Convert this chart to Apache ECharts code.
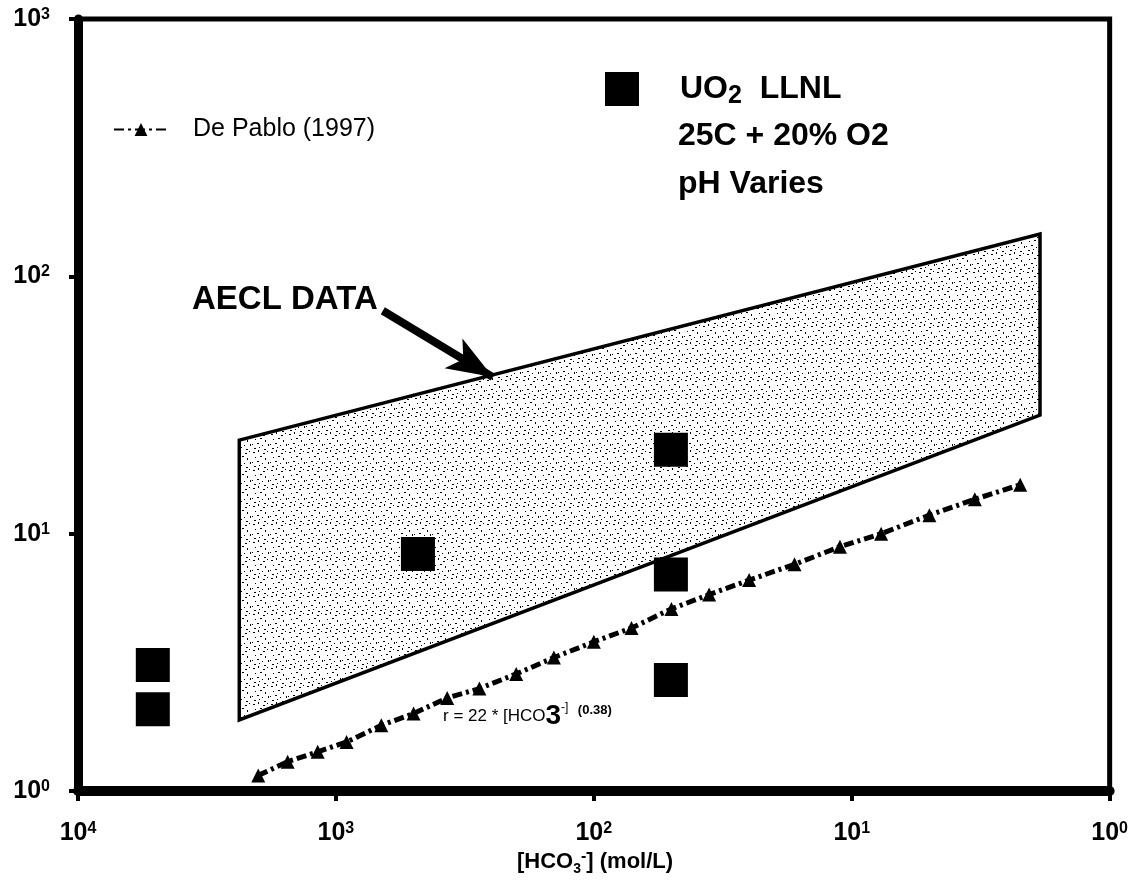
<!DOCTYPE html>
<html lang="en">
<head>
<meta charset="UTF-8">
<title>UO2 rate vs HCO3</title>
<script src="https://cdn.jsdelivr.net/npm/echarts@6/dist/echarts.min.js"></script>
<style>
    html, body { margin: 0; padding: 0; background: #fff; }
    #main { width: 1131px; height: 886px; }
</style>
</head>
<body>
<div id="main"></div>
<script type="text/javascript">
    // UO2 LLNL points (black squares)
    var llnlX = [1.95e-4, 1.95e-4, 2.08e-3, 1.99e-2, 1.99e-2, 1.99e-2];
    var llnlY = [3.09, 2.08, 8.34, 21.2, 6.94, 2.70];

    // De Pablo (1997)
    var pabloX = [5.0e-4, 6.5e-4, 8.5e-4, 1.1e-3, 1.5e-3, 2.0e-3, 2.7e-3, 3.6e-3, 5.0e-3, 7.0e-3,
                  1.0e-2, 1.4e-2, 2.0e-2, 2.8e-2, 4.0e-2, 6.0e-2, 9.0e-2, 0.13, 0.2, 0.3, 0.45];
    var pabloY = [1.15, 1.3, 1.42, 1.55, 1.8, 2.0, 2.3, 2.5, 2.85, 3.3,
                  3.8, 4.3, 5.1, 5.8, 6.6, 7.6, 8.9, 10.0, 11.8, 13.6, 15.5];

    // AECL DATA band corners
    var bandX = [4.22e-4, 0.537, 0.537, 4.22e-4];
    var bandY = [23.1, 146, 28.9, 1.89];

    // arrow to the band
    var arrowX = [1.52e-3, 4.06e-3];
    var arrowY = [73.5, 40.6];

    // exponents as printed under / beside the axes
    var xTickLabels = ['4', '3', '2', '1', '0'];
    var yTickLabels = ['0', '1', '2', '3'];

    var FONT = 'Liberation Sans';

    // speckled fill like the scanned stipple
    var tex = document.createElement('canvas');
    tex.width = 18; tex.height = 18;
    var g = tex.getContext('2d');
    g.fillStyle = '#fff'; g.fillRect(0, 0, 18, 18);
    g.fillStyle = '#000';
    [[1,2,2,1],[6,0,1,2],[11,3,2,1],[15,1,1,1],[3,7,1,1],[8,6,2,1],[13,8,1,2],
     [0,12,1,1],[5,11,2,1],[10,13,1,1],[16,12,1,2],[2,16,2,1],[7,15,1,1],[12,17,2,1]]
        .forEach(function (s) { g.fillRect(s[0], s[1], s[2], s[3]); });

    var labelRich = {
        base: { fontSize: 25, fontWeight: 'bold', fontFamily: FONT, color: '#000' },
        sup: { fontSize: 16, fontWeight: 'bold', fontFamily: FONT, color: '#000', verticalAlign: 'top', padding: [0, 0, 7, 0] }
    };

    var myChart = echarts.init(document.getElementById('main'));
    var option = {
        animation: false,
        backgroundColor: '#fff',
        grid: {
            left: 78, top: 19, width: 1037, height: 772,
            show: true, borderColor: '#000', borderWidth: 5
        },
        legend: [
            {
                data: ['De Pablo (1997)'],
                left: 108, top: 112,
                itemWidth: 54, itemHeight: 16,
                textStyle: { fontSize: 25, fontFamily: FONT, color: '#000', padding: [0, 0, 0, 20] }
            },
            {
                data: ['UO2 LLNL'],
                left: 600, top: 67,
                icon: 'rect',
                itemWidth: 34, itemHeight: 34,
                itemStyle: { color: '#000', opacity: 1 },
                formatter: function () { return 'UO{sub|2}  LLNL'; },
                textStyle: {
                    fontSize: 32, fontWeight: 'bold', fontFamily: FONT, color: '#000', padding: [0, 0, 0, 36],
                    rich: { sub: { fontSize: 25, fontWeight: 'bold', fontFamily: FONT, padding: [14, 0, 0, 0] } }
                }
            }
        ],
        xAxis: {
            type: 'log', logBase: 10, min: 1e-4, max: 1,
            axisLine: { lineStyle: { color: '#000', width: 10 } },
            axisTick: { show: true, length: 10, lineStyle: { color: '#000', width: 4 } },
            minorTick: { show: false },
            splitLine: { show: false },
            axisLabel: {
                margin: 30,
                formatter: function (v) {
                    var i = Math.round(Math.log10(v)) + 4;
                    return '{base|10}{sup|' + xTickLabels[i] + '}';
                },
                rich: labelRich
            }
        },
        yAxis: {
            type: 'log', logBase: 10, min: 1, max: 1000,
            axisLine: { lineStyle: { color: '#000', width: 9 } },
            axisTick: { show: true, length: 9, lineStyle: { color: '#000', width: 4 } },
            minorTick: { show: false },
            splitLine: { show: false },
            axisLabel: {
                margin: 28,
                formatter: function (v) {
                    var i = Math.round(Math.log10(v));
                    return '{base|10}{sup|' + yTickLabels[i] + '}';
                },
                rich: labelRich
            }
        },
        series: [
            {
                type: 'custom',
                name: 'AECL DATA',
                silent: true,
                z: 1,
                data: [[bandX[0], bandY[0]]],
                renderItem: function (params, api) {
                    var pts = bandX.map(function (x, i) { return api.coord([x, bandY[i]]); });
                    return {
                        type: 'polygon',
                        shape: { points: pts },
                        style: { fill: { image: tex, repeat: 'repeat' }, stroke: '#000', lineWidth: 3.5 }
                    };
                }
            },
            {
                type: 'line',
                name: 'De Pablo (1997)',
                z: 3,
                data: pabloX.map(function (x, i) { return [x, pabloY[i]]; }),
                symbol: 'triangle',
                symbolSize: 14,
                showSymbol: true,
                itemStyle: { color: '#000', opacity: 1 },
                lineStyle: { color: '#000', width: 5, type: [10, 4, 3, 4] }
            },
            {
                type: 'scatter',
                name: 'UO2 LLNL',
                z: 4,
                data: llnlX.map(function (x, i) { return [x, llnlY[i]]; }),
                symbol: 'rect',
                symbolSize: 34,
                itemStyle: { color: '#000', opacity: 1 },
                markLine: {
                    silent: true,
                    symbol: ['none', 'arrow'],
                    symbolSize: [26, 46],
                    label: { show: false },
                    lineStyle: { color: '#000', width: 8, type: 'solid', opacity: 1 },
                    data: [[
                        { coord: [arrowX[0], arrowY[0]] },
                        { coord: [arrowX[1], arrowY[1]] }
                    ]]
                }
            }
        ],
        graphic: [
            {
                type: 'text', left: 192, top: 283,
                style: { text: 'AECL DATA', font: 'bold 33px "Liberation Sans"', fill: '#000' }
            },
            {
                type: 'text', left: 678, top: 120,
                style: { text: '25C + 20% O2', font: 'bold 32px "Liberation Sans"', fill: '#000' }
            },
            {
                type: 'text', left: 678, top: 168,
                style: { text: 'pH Varies', font: 'bold 32px "Liberation Sans"', fill: '#000' }
            },
            {
                type: 'text', left: 443, top: 702,
                style: {
                    text: 'r = 22 * [HCO{b|3}{m|-]}  {s|(0.38)}',
                    font: '17px "Liberation Sans"', fill: '#000',
                    rich: {
                        b: { fontSize: 28, fontWeight: 'bold', fontFamily: FONT },
                        m: { fontSize: 12, fontFamily: FONT, verticalAlign: 'top' },
                        s: { fontSize: 13, fontWeight: 'bold', fontFamily: FONT, padding: [0, 0, 12, 0] }
                    }
                }
            },
            {
                type: 'text', left: 517, top: 849,
                style: {
                    text: '[HCO{sub|3}{sup|-}] (mol/L)',
                    font: 'bold 22px "Liberation Sans"', fill: '#000',
                    rich: {
                        sub: { fontSize: 14, fontWeight: 'bold', fontFamily: FONT, padding: [14, 0, 0, 0] },
                        sup: { fontSize: 16, fontWeight: 'bold', fontFamily: FONT, padding: [0, 0, 10, 0] }
                    }
                }
            }
        ]
    };
    myChart.setOption(option);
</script>
</body>
</html>
